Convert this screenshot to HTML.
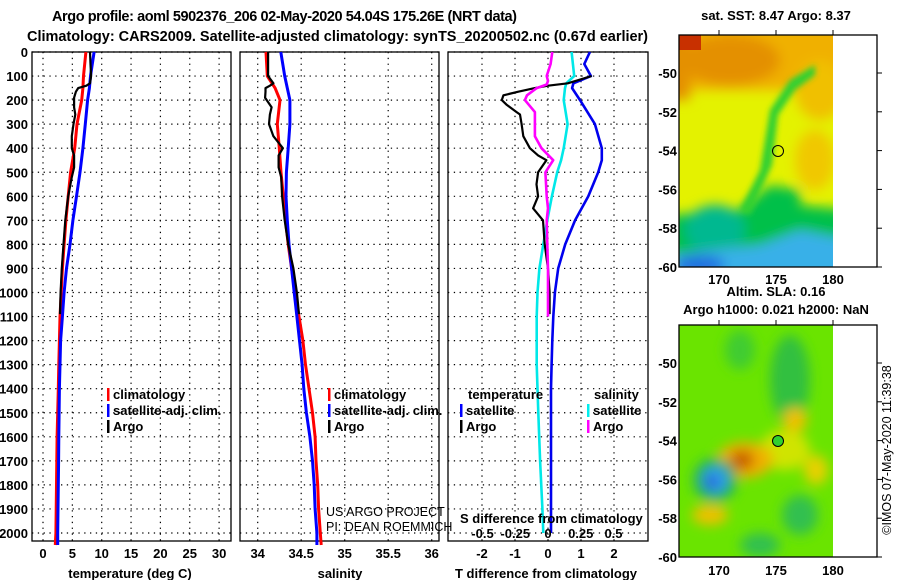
<!DOCTYPE html>
<html><head><meta charset="utf-8"><style>
html,body{margin:0;padding:0;background:#fff;}
svg{display:block;font-family:"Liberation Sans",sans-serif;}
.b{font-weight:bold;font-size:13px;}
</style></head><body>
<svg id="fig" width="900" height="580" viewBox="0 0 900 580">
<text x="52" y="21" font-size="14.5" font-weight="bold" textLength="465">Argo profile: aoml 5902376_206 02-May-2020 54.04S 175.26E (NRT data)</text>
<text x="27" y="41" font-size="14.5" font-weight="bold" textLength="621">Climatology: CARS2009. Satellite-adjusted climatology: synTS_20200502.nc (0.67d earlier)</text>
<g id="plots"></g>
<g id="maps">
 <defs>
  <filter id="bl" x="-20%" y="-20%" width="140%" height="140%"><feGaussianBlur stdDeviation="6"/></filter>
  <filter id="bl2" x="-20%" y="-20%" width="140%" height="140%"><feGaussianBlur stdDeviation="3"/></filter>
  <clipPath id="c1"><rect x="679" y="35" width="154" height="232"/></clipPath>
  <clipPath id="c2"><rect x="679" y="325" width="154" height="232"/></clipPath>
 </defs>
 <text x="776" y="20" text-anchor="middle" class="b">sat. SST: 8.47 Argo: 8.37</text>
 <g clip-path="url(#c1)">
  <rect x="679" y="35" width="154" height="232" fill="#e4f200"/>
  <g filter="url(#bl)">
   <rect x="660" y="20" width="190" height="70" fill="#f0b000"/>
   <ellipse cx="730" cy="60" rx="50" ry="25" fill="#e49000"/>
   <rect x="660" y="20" width="30" height="80" fill="#e49000"/>
   <ellipse cx="820" cy="90" rx="25" ry="30" fill="#f0c000"/>
   <ellipse cx="815" cy="160" rx="20" ry="30" fill="#f0c800"/>
   <path d="M670 215 L740 210 L770 185 L800 190 L800 205 L850 210 L850 280 L670 280Z" fill="#00c048"/>
   <ellipse cx="715" cy="230" rx="30" ry="25" fill="#00b890"/>
   <path d="M670 255 L760 245 L800 230 L850 240 L850 280 L670 280Z" fill="#38b0e8"/>
   <ellipse cx="700" cy="265" rx="25" ry="10" fill="#2070e0"/>
  </g>
  <rect x="679" y="35" width="22" height="15" fill="#c83000"/>
  <path d="M740 210 L760 170 L770 110 L790 80 L815 65 L815 75 L795 90 L778 115 L772 165 L750 215Z" fill="#30d030" filter="url(#bl2)"/>
 </g>
 <rect x="679" y="35" width="198" height="232" fill="none" stroke="#000" stroke-width="1.3"/>
 <circle cx="778" cy="151" r="5.5" fill="none" stroke="#000"/>
 <text x="776" y="296" text-anchor="middle" class="b">Altim. SLA: 0.16</text>
 <text x="776" y="314" text-anchor="middle" class="b">Argo h1000: 0.021 h2000: NaN</text>
 <g clip-path="url(#c2)">
  <rect x="679" y="325" width="154" height="232" fill="#6ae400"/>
  <g filter="url(#bl)">
   <ellipse cx="790" cy="380" rx="20" ry="45" fill="#30c040"/>
   <ellipse cx="740" cy="350" rx="15" ry="20" fill="#40cc30"/>
   <ellipse cx="785" cy="450" rx="25" ry="20" fill="#d0e400"/>
   <ellipse cx="745" cy="460" rx="28" ry="18" fill="#f0b000"/>
   <ellipse cx="742" cy="460" rx="12" ry="10" fill="#c86000"/>
   <ellipse cx="795" cy="420" rx="12" ry="12" fill="#f0c000"/>
   <ellipse cx="816" cy="470" rx="12" ry="15" fill="#e8d000"/>
   <ellipse cx="715" cy="480" rx="22" ry="22" fill="#20b060"/>
   <ellipse cx="715" cy="480" rx="13" ry="13" fill="#30a0f0"/>
   <ellipse cx="712" cy="482" rx="6" ry="6" fill="#2040d0"/>
   <ellipse cx="710" cy="515" rx="18" ry="10" fill="#f0c000"/>
   <ellipse cx="800" cy="515" rx="18" ry="20" fill="#30c050"/>
   <ellipse cx="760" cy="545" rx="20" ry="12" fill="#30c050"/>
  </g>
 </g>
 <rect x="679" y="325" width="198" height="232" fill="none" stroke="#000" stroke-width="1.3"/>
 <circle cx="778" cy="441" r="5.5" fill="#30d030" stroke="#000"/>
 <text transform="translate(891,450) rotate(-90)" text-anchor="middle" font-size="12.5">©IMOS 07-May-2020 11:39:38</text>
</g>
</svg>
<script>
const depthClim = [0,100,150,200,300,400,500,600,700,800,900,1000,1100,1200,1300,1400,1500,1600,1700,1800,1900,2000,2050];
const tClim = [7.3,6.9,6.8,6.6,5.8,5.4,4.7,4.3,3.9,3.6,3.3,3.1,2.9,2.8,2.7,2.6,2.5,2.4,2.35,2.3,2.25,2.2,2.1];
const tSat  = [8.7,8.1,7.9,7.6,7.2,6.8,6.3,5.7,5.1,4.6,4.0,3.6,3.3,3.0,2.9,2.8,2.75,2.7,2.65,2.6,2.55,2.5,2.5];
const depthArgo = [0,50,100,130,140,150,165,190,230,260,300,350,400,430,480,520,600,700,800,900,1000,1090];
const tArgo = [8.0,8.1,8.2,8.0,7.4,6.0,5.6,5.3,5.3,5.5,5.2,4.9,4.9,5.3,5.3,4.9,4.3,3.8,3.5,3.2,3.0,2.9];
const sClim = [34.095,34.11,34.2,34.256,34.225,34.248,34.268,34.294,34.32,34.35,34.39,34.43,34.475,34.52,34.55,34.59,34.63,34.66,34.67,34.69,34.70,34.72,34.73];
const sSat  = [34.265,34.31,34.34,34.37,34.37,34.35,34.33,34.325,34.34,34.36,34.39,34.42,34.45,34.48,34.51,34.53,34.56,34.60,34.63,34.65,34.66,34.68,34.68];
const sArgo = [34.12,34.12,34.12,34.18,34.14,34.09,34.09,34.085,34.16,34.14,34.13,34.18,34.29,34.24,34.24,34.27,34.28,34.31,34.35,34.41,34.45,34.475];
const depthDiff = [0,50,100,130,150,200,300,400,450,500,600,700,800,900,1000,1100,1200,1300,1400,1500,1700,1900,2000];
const dTSat = [1.27,1.1,1.3,0.77,0.73,0.97,1.42,1.63,1.63,1.52,1.22,0.82,0.52,0.31,0.21,0.16,0.13,0.11,0.09,0.09,0.09,0.09,0.09];
const dSSat = [0.18,0.19,0.2,0.14,0.13,0.12,0.15,0.12,0.1,0.07,0.03,-0.005,-0.036,-0.066,-0.08,-0.086,-0.086,-0.086,-0.08,-0.074,-0.06,-0.043,-0.036];
const depthDArgo = [100,130,140,150,165,180,200,220,250,260,300,350,400,430,450,500,550,600,650,700,800,900,1000,1090];
const dTArgo = [1.32,0.6,0.0,-0.4,-0.9,-1.35,-1.4,-1.25,-0.95,-0.85,-0.8,-0.75,-0.55,-0.3,-0.05,-0.3,-0.35,-0.3,-0.45,-0.15,-0.1,0.0,0.05,0.05];
const depthDSArgo = [0,50,100,120,135,150,180,200,250,300,350,400,450,500,600,650,700,800,900,1000,1100];
const dSArgo = [0.033,0.02,-0.01,0.0,-0.01,-0.086,-0.16,-0.176,-0.1,-0.1,-0.1,-0.05,0.04,-0.02,-0.01,0.0,-0.01,-0.005,0.0,0.0,0.0];
const depthTicks = [0,100,200,300,400,500,600,700,800,900,1000,1100,1200,1300,1400,1500,1600,1700,1800,1900,2000];
const tTicks = [0,5,10,15,20,25,30];
const sTicks = [34,34.5,35,35.5,36];
const sTickLabels = ["34","34.5","35","35.5","36"];
const dTTicks = [-2,-1,0,1,2];
const dSTicks = [-0.5,-0.25,0,0.25,0.5];
const dSTickLabels = ["-0.5","-0.25","0","0.25","0.5"];

const NS="http://www.w3.org/2000/svg";
const root=document.getElementById('plots');
const TOP=52, BOT=541;
const yD = d => TOP + d*0.2405;
const xT = v => 43 + v*5.87;
const xS = v => 257.7 + (v-34)*87;
const xDT = v => 548 + v*33;
const xDS = v => 548 + v*131;
function el(tag,attrs,parent){const e=document.createElementNS(NS,tag);for(const k in attrs)e.setAttribute(k,attrs[k]);(parent||root).appendChild(e);return e;}
function txt(x,y,s,attrs,parent){const t=el('text',Object.assign({x:x,y:y},attrs||{}),parent);t.textContent=s;return t;}
function panel(name,x0,x1,xf,ticks,labels){
  const g=el('g',{});
  
  
  depthTicks.forEach(d=>{el('line',{x1:x0,x2:x1,y1:yD(d),y2:yD(d),stroke:'#000','stroke-dasharray':'1.3,4.5','stroke-width':1.2},g);});
  ticks.forEach((v,i)=>{const x=xf(v);el('line',{x1:x,x2:x,y1:TOP,y2:BOT,stroke:'#000','stroke-dasharray':'1.3,4.5','stroke-width':1.2},g);
    if(labels){const t=txt(x,558,labels[i],{'text-anchor':'middle',class:'b'},g);
      
      }});
  el('rect',{x:x0,y:TOP,width:x1-x0,height:BOT-TOP,fill:'none',stroke:'#000','stroke-width':1.3},g);
  return g;
}
function line(g,xs,ds,xf,color,w,name){
  const p=el('polyline',{points:xs.map((v,i)=>xf(v).toFixed(1)+','+yD(ds[i]).toFixed(1)).join(' '),fill:'none',stroke:color,'stroke-width':w,'stroke-linejoin':'round'},g);
  
  
}
function leg(g,x,y,color,label){
  el('rect',{x:x,y:y-11,width:2.5,height:13,fill:color},g);
  const t=txt(x+6,y,label,{class:'b','font-size':'12.5'},g);
  
  
}
const g1=panel('temperature-panel',32,231,xT,tTicks,tTicks.map(String));
depthTicks.forEach(d=>{const t=txt(28,yD(d)+5,String(d),{'text-anchor':'end',class:'b'});
  
  });
line(g1,tClim,depthClim,xT,'#ff0000',3,'temp-climatology-line');
line(g1,tSat,depthClim,xT,'#0000ff',3,'temp-satellite-line');
line(g1,tArgo,depthArgo,xT,'#000',2.2,'temp-argo-line');
leg(g1,107,399,'#f00','climatology');leg(g1,107,415,'#00f','satellite-adj. clim.');leg(g1,107,431,'#000','Argo');
const a1=txt(130,578,'temperature (deg C)',{'text-anchor':'middle',class:'b'});


const g2=panel('salinity-panel',240,439,xS,sTicks,sTickLabels);
line(g2,sClim,depthClim,xS,'#ff0000',3,'sal-climatology-line');
line(g2,sSat,depthClim,xS,'#0000ff',3,'sal-satellite-line');
line(g2,sArgo,depthArgo,xS,'#000',2.2,'sal-argo-line');
leg(g2,328,399,'#f00','climatology');leg(g2,328,415,'#00f','satellite-adj. clim.');leg(g2,328,431,'#000','Argo');
txt(326,516,'US ARGO PROJECT',{'font-size':'12.5'},g2);
txt(326,531,'PI: DEAN ROEMMICH',{'font-size':'12.5'},g2);
const a2=txt(340,578,'salinity',{'text-anchor':'middle',class:'b'});


const g3=panel('difference-panel',448,648,xDT,dTTicks,dTTicks.map(String));
line(g3,dTSat,depthDiff,xDT,'#0000ee',2.6,'dT-satellite-line');
line(g3,dSSat,depthDiff,xDS,'#00e8e8',2.6,'dS-satellite-line');
line(g3,dTArgo,depthDArgo,xDT,'#000',2.2,'dT-argo-line');
line(g3,dSArgo,depthDSArgo,xDS,'#ff00ff',2.6,'dS-argo-line');
txt(468,399,'temperature',{class:'b','font-size':'12.5'},g3);
txt(594,399,'salinity',{class:'b','font-size':'12.5'},g3);
leg(g3,460,415,'#00f','satellite');leg(g3,460,431,'#000','Argo');
leg(g3,587,415,'#0ee','satellite');leg(g3,587,431,'#f0f','Argo');
txt(460,523,'S difference from climatology',{class:'b','font-size':'12.5'},g3);
dSTicks.forEach((v,i)=>{const t=txt(xDS(v),538,dSTickLabels[i],{'text-anchor':'middle',class:'b','font-size':'12.5'},g3);
  
  });
const a3=txt(546,578,'T difference from climatology',{'text-anchor':'middle',class:'b'});


const lats=[-50,-52,-54,-56,-58,-60];
const lons=[170,175,180];
const mg=document.getElementById('maps');
[[35,73,267,284],[325,363,557,575]].forEach(([top,y50,y60,ly])=>{
  lats.forEach(l=>{const y=y50+(-50-l)*(y60-y50)/10;
    txt(677,y+5,String(l),{'text-anchor':'end',class:'b'},mg);
    el('line',{x1:877,x2:882,y1:y,y2:y,stroke:'#000'},mg);});
  lons.forEach(l=>{const x=719+(l-170)*11.4;
    txt(x,ly,String(l),{'text-anchor':'middle',class:'b'},mg);
    el('line',{x1:x,x2:x,y1:top,y2:top-5,stroke:'#000'},mg);});
});
</script>
</body></html>
